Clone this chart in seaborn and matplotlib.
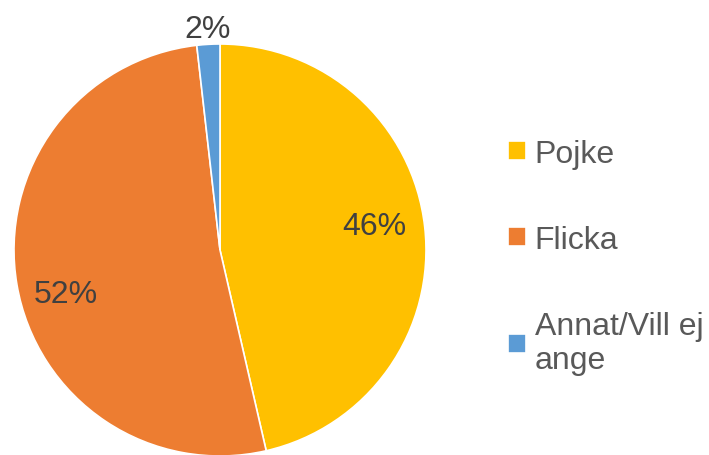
import numpy as np
import matplotlib.pyplot as plt
import seaborn as sns

# Data
categories = ['Pojke', 'Flicka', 'Annat/Vill ej\nange']
shares = [46.4, 51.8, 1.8]
colors = ['#FFC000', '#ED7D31', '#5B9BD5']

sns.set_theme(style="white")
plt.rcParams['font.family'] = ['Liberation Sans', 'DejaVu Sans']

fig = plt.figure(figsize=(7.09, 4.56), dpi=100)
# pie area: center ~ (220, 251) px, radius ~206 px
ax = fig.add_axes([14 / 709, -1 / 456, 412 / 709, 412 / 456])

wedges, texts, autotexts = ax.pie(
    shares, colors=colors, startangle=90, counterclock=False,
    autopct='%.0f%%', pctdistance=0.78,
    wedgeprops=dict(edgecolor='white', linewidth=1.2),
    textprops=dict(fontsize=23, color='#404040'))

# label placement (Excel "best fit"-like): shift angle / radius per slice
label_shift = [(2.5, 0.76), (6.0, 0.78), (0.0, 1.075)]
for w, t, (dang, r) in zip(wedges, autotexts, label_shift):
    ang = np.deg2rad((w.theta1 + w.theta2) / 2 + dang)
    t.set_position((r * np.cos(ang), r * np.sin(ang)))

ax.set_aspect('equal')
ax.set_xlim(-1, 1)
ax.set_ylim(-1, 1)

leg = fig.legend(wedges, categories, loc='upper left',
                 bbox_to_anchor=(508 / 709, 1 - 140 / 456),
                 frameon=False, fontsize=23, labelcolor='#595959',
                 handlelength=0.55, handleheight=0.55, handletextpad=0.28,
                 labelspacing=1.75, borderpad=0, borderaxespad=0)

fig.savefig('out.png', dpi=100)
